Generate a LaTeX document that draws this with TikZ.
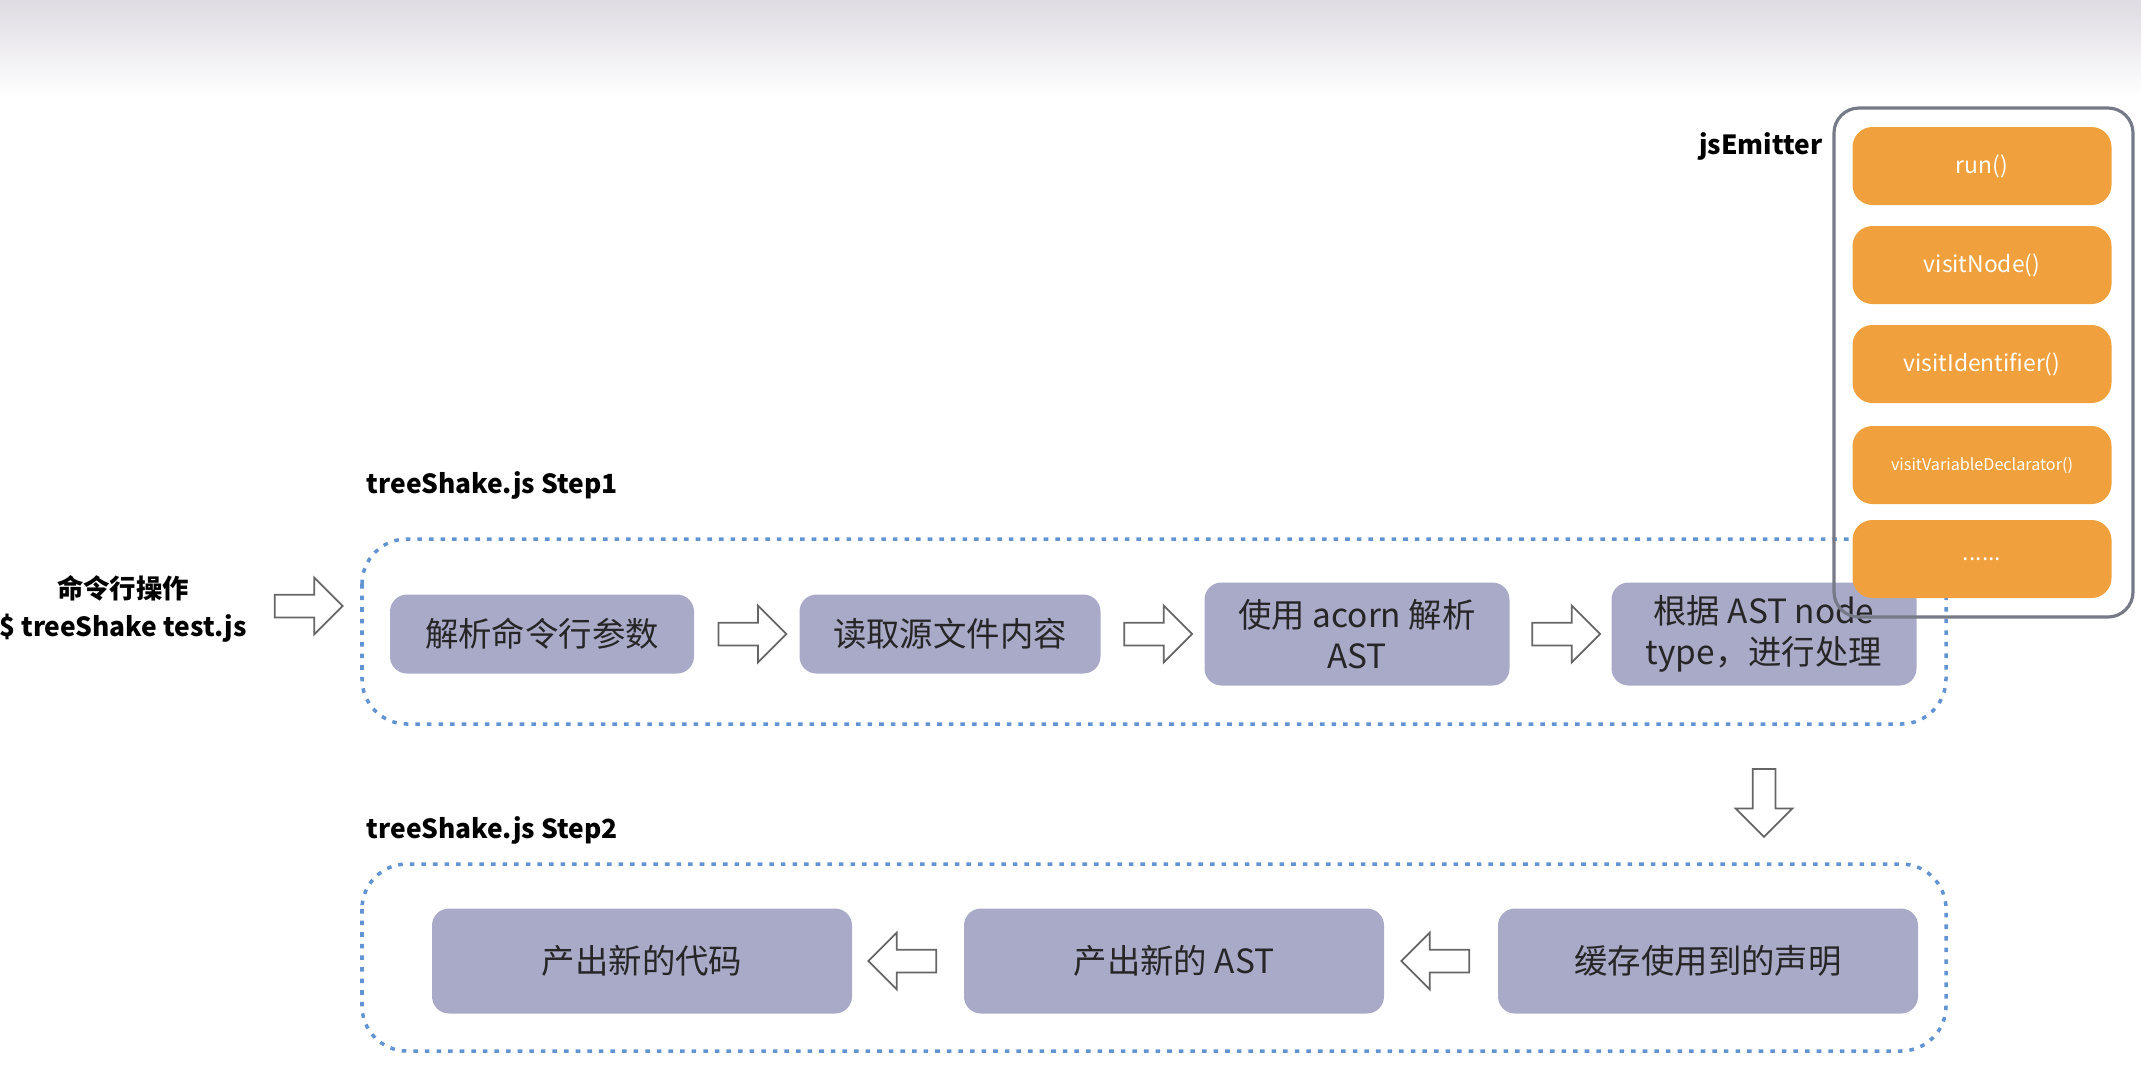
\documentclass[tikz,border=0pt]{standalone}
\usepackage{fontspec}
\setmainfont{Noto Sans CJK SC}
\usepackage{tikz}
\usetikzlibrary{
  positioning,
  calc,
  shapes.arrows
}
\usepackage{xcolor}
\definecolor{boxcolor}{RGB}{168,170,200}
\definecolor{dotcolor}{RGB}{98,148,210}
\definecolor{emitorange}{RGB}{240,160,60}
\definecolor{framegray}{RGB}{118,122,134}
\definecolor{topgray}{RGB}{222,219,226}

\begin{document}
\begin{tikzpicture}[
    stp/.style={fill=boxcolor, rounded corners=0.17cm, align=center, inner sep=0pt,
      text=black!85, font=\fontsize{9.5}{11.7}\selectfont},
    wide/.style={minimum width=4.2cm, minimum height=1.05cm},
    grp/.style={draw=dotcolor, line width=1pt, dash pattern=on 1.3pt off 2pt, rounded corners=0.45cm},
    fn/.style={fill=emitorange, rounded corners=0.2cm, minimum width=2.59cm, minimum height=0.78cm,
      inner sep=0pt, text=white, font=\fontsize{6.5}{8}\selectfont},
    harr/.style={single arrow, draw=black!60, fill=white, line width=0.5pt, inner xsep=0pt,
      inner ysep=0.105cm, minimum height=0.68cm, minimum width=0.55cm, single arrow head extend=0.17cm},
    lbl/.style={font=\bfseries\fontsize{7.5}{11}\selectfont, inner sep=0pt}
  ]
    \useasboundingbox (0,0) rectangle (21.41,-10.70);
    \shade[top color=topgray, bottom color=white] (0,0) rectangle (21.41,-0.97);

    \draw[grp] (3.62,-5.39) rectangle (19.46,-7.24);
    \draw[grp] (3.62,-8.64) rectangle (19.46,-10.51);
    \node[lbl, anchor=west] (s1) at (3.66,-4.85) {treeShake.js Step1};
    \node[lbl, anchor=west] (s2) at (3.66,-8.30) {treeShake.js Step2};
    \node[lbl, align=center] (cmd) at (1.23,-6.09) {命令行操作\\\$ treeShake test.js};

    \node[stp, minimum width=3.04cm, minimum height=0.79cm] (p1) at (5.42,-6.34) {解析命令行参数};
    \node[stp, minimum width=3.01cm, minimum height=0.79cm] (p2) at (9.50,-6.34) {读取源文件内容};
    \node[stp, minimum width=3.05cm, minimum height=1.03cm] (p3) at (13.57,-6.34) {使用 acorn 解析\\AST};
    \node[stp, minimum width=3.05cm, minimum height=1.03cm] (p4) at (17.64,-6.34) {根据 AST node\\type，进行处理};

    \node[stp, wide] (q3) at (17.08,-9.61) {缓存使用到的声明};
    \node[stp, wide] (q2) at (11.74,-9.61) {产出新的 AST};
    \node[stp, wide] (q1) at (6.42,-9.61) {产出新的代码};

    \node[harr] (a0) at (3.03,-6.06) {};
    \node[harr] (a1) at ($(p1.east)!0.5!(p2.west)$) {};
    \node[harr] (a2) at ($(p2.east)!0.5!(p3.west)$) {};
    \node[harr] (a3) at ($(p3.east)!0.5!(p4.west)$) {};
    \node[harr, shape border rotate=270, inner xsep=0.105cm, inner ysep=0pt] (a4) at ($(p4.south)+(0,-1.11)$) {};
    \node[harr, shape border rotate=180] (a5) at ($(q3.west)!0.5!(q2.east)$) {};
    \node[harr, shape border rotate=180] (a6) at ($(q2.west)!0.5!(q1.east)$) {};

    \draw[framegray, line width=0.9pt, rounded corners=0.25cm] (18.34,-1.08) rectangle (21.33,-6.17);
    \node[lbl, anchor=east] (je) at (18.23,-1.46) {jsEmitter};
    \node[fn] (f1) at (19.82,-1.66) {run()};
    \node[fn] (f2) at (19.82,-2.65) {visitNode()};
    \node[fn] (f3) at (19.82,-3.64) {visitIdentifier()};
    \node[fn, font=\fontsize{4.6}{6}\selectfont] (f4) at (19.82,-4.65) {visitVariableDeclarator()};
    \node[fn] (f5) at (19.82,-5.59) {......};
  \end{tikzpicture}
\end{document}
